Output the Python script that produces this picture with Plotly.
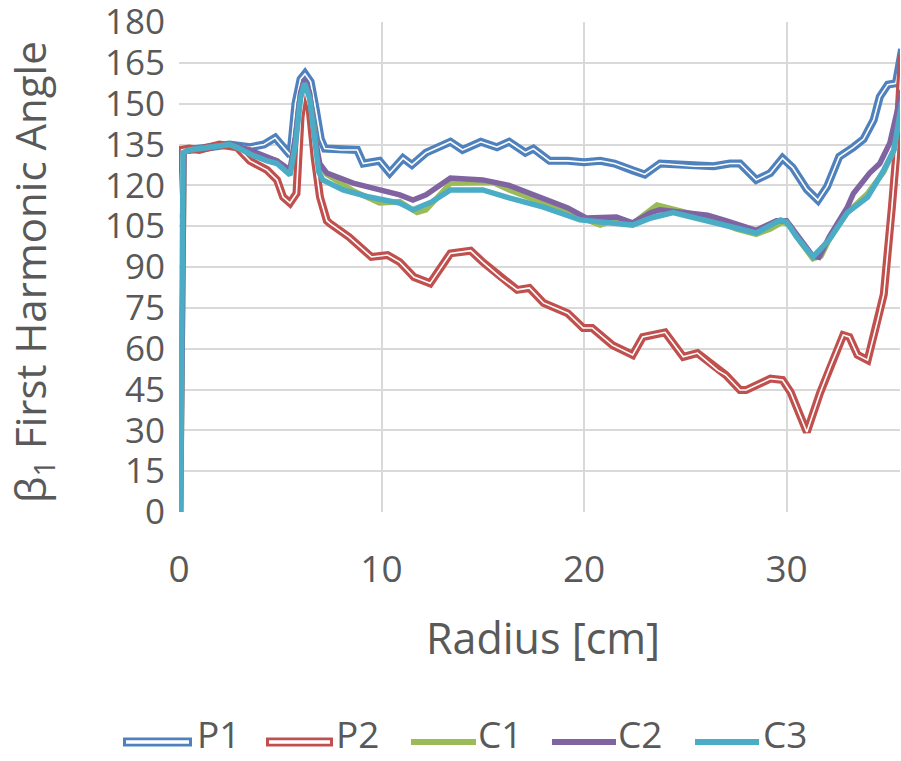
import plotly.graph_objects as go

# ---- data ----
p1_x = [0, 0.15, 0.5, 1.5, 2.5, 3.5, 4.2, 4.75, 5.5, 5.75, 6.0, 6.22, 6.5, 6.75, 7.0, 7.2, 8.0, 8.8, 9.1, 9.9, 10.4,
        11.06, 11.5, 12.2, 13.4, 14.0, 14.9, 15.7, 16.3, 17.1, 17.5, 18.3, 19.2, 20.0, 20.8, 21.5, 22.4, 23.0,
        23.75, 24.7, 25.5, 26.4, 27.2, 27.7, 28.5, 29.2, 29.8, 30.3, 31.0, 31.55, 32.0, 32.6, 33.3, 33.8, 34.3,
        34.6, 35.0, 35.4, 35.7]
p1_y = [110, 133, 133, 134, 135, 134, 135, 137.5, 131, 150, 159, 161, 158, 148, 137, 133.5, 133, 133, 128, 129, 124.5,
        130, 127.5, 132, 136, 133, 136, 134, 136, 132, 133.5, 129, 129, 128.5, 129, 128, 125.5, 124,
        128, 127.5, 127, 127, 128, 128, 122, 124.5, 130, 126.5, 118.5, 114.5, 119.5, 130.5, 134, 137, 144,
        152.5, 157, 157.5, 170]

p2_x = [0, 0.13, 0.5, 1.0, 1.5, 2.0, 2.86, 3.5, 4.35, 4.84, 5.14, 5.48, 5.8, 6.0, 6.2, 6.45, 6.7, 6.96, 7.3, 7.45,
        8.4, 9.5, 10.3, 10.9, 11.6, 12.4, 13.4, 14.4, 15.0, 15.9, 16.7, 17.3, 18.0, 19.2, 19.95, 20.4, 21.4,
        22.4, 22.9, 24.0, 24.9, 25.6, 26.6, 27.0, 27.7, 28.0, 29.2, 29.8, 30.2, 31.0, 31.65, 32.15, 32.8, 33.1,
        33.5, 34.0, 34.5, 34.8, 35.2, 35.4, 35.7]
p2_y = [108, 133, 133.5, 133, 134, 135, 134, 129, 125.6, 122, 115.7, 113.5, 117, 145, 155, 148, 130, 115.7, 107, 106,
        101, 93.7, 94.4, 91.8, 86.3, 84, 95, 96, 91.8, 86, 81.6, 82.3, 76.8, 73, 67.6, 67.6, 61.3,
        57.7, 64.3, 66, 57, 58.4, 52, 50.3, 44.8, 44.8, 49, 48.5, 44, 29.4, 43.7, 53.3, 65, 64.3,
        57.7, 55.8, 70.5, 80, 112, 130, 168]

c1_x = [0.08, 0.25, 0.5, 1.5, 2.5, 3.5, 4.35, 4.84, 5.48, 5.75, 6.0, 6.2, 6.45, 6.7, 6.9, 7.3, 8.1, 8.6, 9.9, 10.9,
        11.75, 12.2, 13.4, 14.5, 15.5, 16.3, 17.5, 18.5, 19.5, 20.8, 21.6, 22.4, 23.6, 24.5, 25.5, 26.4, 27.5,
        28.5, 29.2, 29.8, 30.2, 30.7, 31.3, 31.7, 32.1, 33.0, 34.0, 34.8, 35.3, 35.7]
c1_y = [0, 132, 133, 134, 135, 132, 130, 129, 125, 137, 153, 158, 153, 137, 128, 124, 120, 118, 113.5, 114,
        110, 111, 120.8, 121, 121, 118.3, 115, 112, 109, 105.4, 107.5, 106, 112.8, 111, 109, 107.5, 104,
        102, 104, 106.5, 105, 99, 93, 94, 100, 110, 117, 125, 133, 152]

c2_x = [0.08, 0.25, 0.5, 1.5, 2.5, 3.5, 4.35, 4.84, 5.48, 5.75, 6.0, 6.2, 6.45, 6.7, 6.95, 7.3, 8.6, 10.3, 10.9,
        11.55, 12.2, 13.4, 15.0, 16.3, 17.5, 19.2, 20.1, 21.6, 22.4, 23.3, 23.75, 25.0, 26.1, 27.0, 28.5,
        29.5, 30.0, 30.5, 31.3, 31.6, 32.1, 33.0, 33.3, 34.1, 34.6, 35.1, 35.7]
c2_y = [0, 132, 133, 134, 135, 133, 130.4, 129, 125.6, 138, 154, 159, 154, 138, 128, 124.5, 120.8, 117.6, 116.5,
        114.6, 116.5, 122.7, 122, 120, 116.5, 111.7, 108, 108.4, 106.2, 110, 111, 110, 109, 107, 103.5,
        107, 107, 102, 94, 93.5, 101, 112, 117, 124.5, 128, 135.6, 155]

c3_x = [0.08, 0.2, 0.5, 1.5, 2.5, 2.86, 3.65, 4.35, 4.84, 5.48, 5.75, 6.0, 6.2, 6.45, 6.7, 6.9, 7.1, 8.1, 9.4, 10.9,
        11.55, 12.5, 13.4, 15.0, 16.3, 18.0, 19.8, 20.8, 22.4, 23.3, 24.4, 25.5, 26.9, 28.5, 29.7, 30.0, 30.5,
        31.3, 32.1, 33.0, 34.0, 34.8, 35.3, 35.7]
c3_y = [0, 132, 133, 134, 135, 134, 131, 129, 128, 123.8, 135, 152, 157.5, 152, 135, 125, 122, 118.3, 115.7, 113.5,
        111, 114, 118.3, 118.3, 115.4, 112, 107.3, 106.5, 105.4, 108, 110, 108, 105.4, 102.5, 107.3, 106.5, 101,
        93.7, 100, 110, 115.7, 125.6, 133, 151]

y_ticks = list(range(0, 181, 15))
x_ticks = [0, 10, 20, 30]
series_names = ["P1", "P2", "C1", "C2", "C3"]

# ---- styles ----
BLUE, RED, GREEN, PURPLE, CYAN = "#4F81BD", "#C0504D", "#9BBB59", "#8064A2", "#4BACC6"
TXT = "#595959"
FONT = "Open Sans"

fig = go.Figure()

def add_double(x, y, color, name):
    fig.add_trace(go.Scatter(x=x, y=y, mode="lines", name=name, showlegend=False,
                             line=dict(color=color, width=8), hoverinfo="skip"))
    fig.add_trace(go.Scatter(x=x, y=y, mode="lines", name=name, showlegend=False,
                             line=dict(color="white", width=1.6), hoverinfo="skip"))

def add_single(x, y, color, name):
    fig.add_trace(go.Scatter(x=x, y=y, mode="lines", name=name, showlegend=False,
                             line=dict(color=color, width=5.5), hoverinfo="skip"))

add_double(p1_x, p1_y, BLUE, series_names[0])
add_double(p2_x, p2_y, RED, series_names[1])
add_single(c1_x, c1_y, GREEN, series_names[2])
add_single(c2_x, c2_y, PURPLE, series_names[3])
add_single(c3_x, c3_y, CYAN, series_names[4])

L, R, T, B = 179, 1, 22, 249
W, H = 901, 761
pw = W - L - R
ph = H - T - B

def px_to_paper(px, py):
    return (px - L) / pw, (H - B - py) / ph

# ---- manual legend ----
legend_items = [
    (series_names[0], BLUE, True, 123, 192, 196),
    (series_names[1], RED, True, 266, 333, 335),
    (series_names[2], GREEN, False, 411, 476, 477),
    (series_names[3], PURPLE, False, 552, 616, 617),
    (series_names[4], CYAN, False, 695, 759, 762),
]
shapes = []
annotations = []
ly = 742
for name, col, dbl, x0, x1, xt in legend_items:
    a0, yy = px_to_paper(x0, ly)
    a1, _ = px_to_paper(x1, ly)
    if dbl:
        shapes.append(dict(type="line", xref="paper", yref="paper", x0=a0, x1=a1, y0=yy, y1=yy,
                           line=dict(color=col, width=9)))
        b0, _ = px_to_paper(x0 + 3, ly)
        b1, _ = px_to_paper(x1 - 3, ly)
        shapes.append(dict(type="line", xref="paper", yref="paper", x0=b0, x1=b1, y0=yy, y1=yy,
                           line=dict(color="white", width=3.5)))
    else:
        shapes.append(dict(type="line", xref="paper", yref="paper", x0=a0, x1=a1, y0=yy, y1=yy,
                           line=dict(color=col, width=6)))
    tx, tyb = px_to_paper(xt, 760)
    annotations.append(dict(text=name, xref="paper", yref="paper", x=tx, y=tyb, xanchor="left",
                            yanchor="bottom", showarrow=False, borderpad=0,
                            font=dict(family=FONT, size=37, color=TXT)))

# axis titles
ax, ay = px_to_paper(543, 637)
annotations.append(dict(text="Radius [cm]", xref="paper", yref="paper", x=ax, y=ay, xanchor="center",
                        yanchor="middle", showarrow=False, font=dict(family=FONT, size=43, color=TXT)))
tx, ty = px_to_paper(32, 272)
annotations.append(dict(text="β<sub>1</sub> First Harmonic Angle", xref="paper", yref="paper", x=tx, y=ty,
                        xanchor="center", yanchor="middle", textangle=-90, showarrow=False,
                        font=dict(family=FONT, size=42, color=TXT)))

fig.update_layout(
    width=W, height=H,
    margin=dict(l=L, r=R, t=T, b=B, autoexpand=False),
    plot_bgcolor="white", paper_bgcolor="white",
    showlegend=False,
    shapes=shapes, annotations=annotations,
    font=dict(family=FONT, color=TXT),
)
fig.update_xaxes(range=[0, 35.6], tickvals=x_ticks, showgrid=True, gridcolor="#D9D9D9", gridwidth=1.5,
                 zeroline=False, showline=False, ticks="", tickfont=dict(family=FONT, size=37, color=TXT),
                 ticklabelstandoff=32)
fig.update_yaxes(range=[0, 180], tickvals=y_ticks, showgrid=True, gridcolor="#D9D9D9", gridwidth=1.5,
                 zeroline=False, showline=False, ticks="", tickfont=dict(family=FONT, size=35, color=TXT),
                 ticklabelstandoff=13, ticklabeloverflow="allow")

fig.write_html("out.html")
